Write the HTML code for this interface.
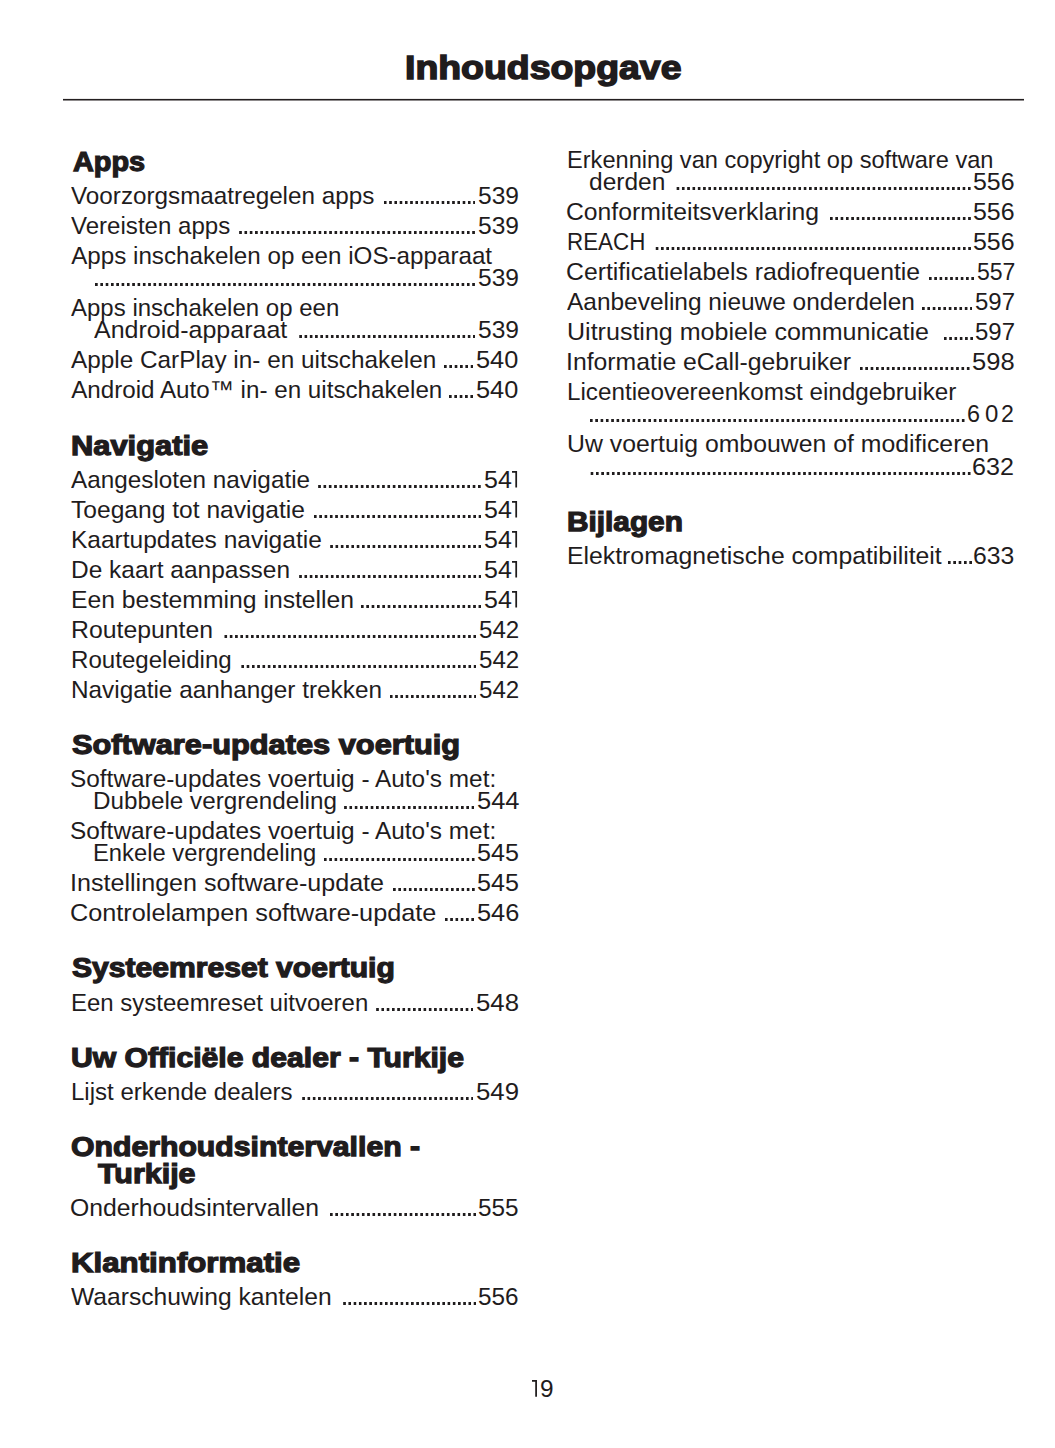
<!DOCTYPE html>
<html><head><meta charset="utf-8"><title>Inhoudsopgave</title>
<style>
html,body{margin:0;padding:0;background:#fff;}
body{width:1055px;height:1448px;position:relative;overflow:hidden;font-family:"Liberation Sans",sans-serif;color:#1f1c1d;}
.ti,.h,.l{position:absolute;line-height:0;white-space:nowrap;transform-origin:0 0;}
.ti{font-weight:bold;font-size:33.5px;-webkit-text-stroke:1.5px #1f1c1d;}
.h{font-weight:bold;font-size:27.5px;-webkit-text-stroke:1.25px #1f1c1d;}
.l{font-size:24.2px;}
.d{position:absolute;height:3px;background-image:linear-gradient(to left,#1f1c1d 0 2.6px,transparent 2.6px);background-position:right top;background-repeat:repeat-x;}
.r{position:absolute;left:63px;width:961px;height:1px;}
</style></head><body>
<div class="r" style="top:98px;background:#ebeaea"></div><div class="r" style="top:99px;background:#231f20"></div><div class="r" style="top:100px;background:#8d8a8b"></div>
<div class="ti" style="top:68px;left:404.90px;transform:scaleX(1.1169);">Inhoudsopgave</div>
<div class="h" style="top:162px;left:72.66px;transform:scaleX(1.0487);">Apps</div>
<div class="l" style="top:196px;left:71.20px;transform:scaleX(1.0025);">Voorzorgsmaatregelen apps</div>
<div class="l" style="top:196px;left:477.80px;transform:scaleX(1.0149);">539</div>
<div class="d" style="top:201px;left:383.50px;width:91.80px;background-size:5.252px 100%"></div>
<div class="l" style="top:226px;left:71.20px;transform:scaleX(0.9949);">Vereisten apps</div>
<div class="l" style="top:226px;left:477.80px;transform:scaleX(1.0149);">539</div>
<div class="d" style="top:231px;left:239.40px;width:235.90px;background-size:5.303px 100%"></div>
<div class="l" style="top:256px;left:71.20px;">Apps inschakelen op een iOS-apparaat</div>
<div class="l" style="top:278px;left:477.80px;transform:scaleX(1.0149);">539</div>
<div class="d" style="top:283px;left:94.40px;width:380.90px;background-size:5.328px 100%"></div>
<div class="l" style="top:308px;left:71.20px;transform:scaleX(0.9924);">Apps inschakelen op een</div>
<div class="l" style="top:330px;left:94.40px;transform:scaleX(1.0342);">Android-apparaat</div>
<div class="l" style="top:330px;left:477.80px;transform:scaleX(1.0149);">539</div>
<div class="d" style="top:335px;left:298.60px;width:176.70px;background-size:5.277px 100%"></div>
<div class="l" style="top:360px;left:71.20px;transform:scaleX(1.0062);">Apple CarPlay in- en uitschakelen</div>
<div class="l" style="top:360px;left:475.90px;transform:scaleX(1.0475);">540</div>
<div class="d" style="top:365px;left:444.00px;width:29.40px;background-size:5.355px 100%"></div>
<div class="l" style="top:390px;left:71.20px;">Android Auto™ in- en uitschakelen</div>
<div class="l" style="top:390px;left:475.90px;transform:scaleX(1.0475);">540</div>
<div class="d" style="top:395px;left:449.30px;width:24.10px;background-size:5.366px 100%"></div>
<div class="h" style="top:446px;left:71.08px;transform:scaleX(1.1217);">Navigatie</div>
<div class="l" style="top:480px;left:71.20px;transform:scaleX(1.0043);">Aangesloten navigatie</div>
<div class="l" style="top:480px;left:483.50px;transform:scaleX(1.0321);">54</div>
<svg style="position:absolute;left:509.90px;top:469.40px" width="8.20" height="20.60"><path d="M2.00 2.88H6.20V18.60" fill="none" stroke="#1f1c1d" stroke-width="1.75" stroke-linejoin="miter"/></svg>
<div class="d" style="top:485px;left:318.30px;width:162.70px;background-size:5.336px 100%"></div>
<div class="l" style="top:510px;left:71.20px;transform:scaleX(1.0170);">Toegang tot navigatie</div>
<div class="l" style="top:510px;left:483.50px;transform:scaleX(1.0321);">54</div>
<svg style="position:absolute;left:509.90px;top:499.40px" width="8.20" height="20.60"><path d="M2.00 2.88H6.20V18.60" fill="none" stroke="#1f1c1d" stroke-width="1.75" stroke-linejoin="miter"/></svg>
<div class="d" style="top:515px;left:313.70px;width:167.30px;background-size:5.313px 100%"></div>
<div class="l" style="top:540px;left:70.99px;transform:scaleX(1.0135);">Kaartupdates navigatie</div>
<div class="l" style="top:540px;left:483.50px;transform:scaleX(1.0321);">54</div>
<svg style="position:absolute;left:509.90px;top:529.40px" width="8.20" height="20.60"><path d="M2.00 2.88H6.20V18.60" fill="none" stroke="#1f1c1d" stroke-width="1.75" stroke-linejoin="miter"/></svg>
<div class="d" style="top:545px;left:329.80px;width:151.20px;background-size:5.308px 100%"></div>
<div class="l" style="top:570px;left:70.99px;transform:scaleX(1.0120);">De kaart aanpassen</div>
<div class="l" style="top:570px;left:483.50px;transform:scaleX(1.0321);">54</div>
<svg style="position:absolute;left:509.90px;top:559.40px" width="8.20" height="20.60"><path d="M2.00 2.88H6.20V18.60" fill="none" stroke="#1f1c1d" stroke-width="1.75" stroke-linejoin="miter"/></svg>
<div class="d" style="top:575px;left:298.60px;width:182.40px;background-size:5.289px 100%"></div>
<div class="l" style="top:600px;left:70.98px;transform:scaleX(1.0222);">Een bestemming instellen</div>
<div class="l" style="top:600px;left:483.50px;transform:scaleX(1.0321);">54</div>
<svg style="position:absolute;left:509.90px;top:589.40px" width="8.20" height="20.60"><path d="M2.00 2.88H6.20V18.60" fill="none" stroke="#1f1c1d" stroke-width="1.75" stroke-linejoin="miter"/></svg>
<div class="d" style="top:605px;left:360.80px;width:120.20px;background-size:5.345px 100%"></div>
<div class="l" style="top:630px;left:70.97px;transform:scaleX(1.0252);">Routepunten</div>
<div class="l" style="top:630px;left:478.90px;transform:scaleX(0.9974);">542</div>
<div class="d" style="top:635px;left:224.30px;width:252.10px;background-size:5.309px 100%"></div>
<div class="l" style="top:660px;left:71.00px;transform:scaleX(0.9961);">Routegeleiding</div>
<div class="l" style="top:660px;left:478.90px;transform:scaleX(0.9974);">542</div>
<div class="d" style="top:665px;left:241.00px;width:235.40px;background-size:5.292px 100%"></div>
<div class="l" style="top:690px;left:70.99px;transform:scaleX(1.0055);">Navigatie aanhanger trekken</div>
<div class="l" style="top:690px;left:478.90px;transform:scaleX(0.9974);">542</div>
<div class="d" style="top:695px;left:389.60px;width:86.80px;background-size:5.266px 100%"></div>
<div class="h" style="top:745px;left:71.70px;transform:scaleX(1.1190);">Software-updates voertuig</div>
<div class="l" style="top:779px;left:70.19px;transform:scaleX(1.0082);">Software-updates voertuig - Auto&#39;s met:</div>
<div class="l" style="top:801px;left:93.40px;transform:scaleX(1.0023);">Dubbele vergrendeling</div>
<div class="l" style="top:801px;left:476.80px;transform:scaleX(1.0525);">544</div>
<div class="d" style="top:806px;left:344.00px;width:130.30px;background-size:5.321px 100%"></div>
<div class="l" style="top:831px;left:70.19px;transform:scaleX(1.0082);">Software-updates voertuig - Auto&#39;s met:</div>
<div class="l" style="top:853px;left:93.42px;transform:scaleX(0.9827);">Enkele vergrendeling</div>
<div class="l" style="top:853px;left:477.40px;transform:scaleX(1.0375);">545</div>
<div class="d" style="top:858px;left:324.40px;width:150.50px;background-size:5.284px 100%"></div>
<div class="l" style="top:883px;left:69.92px;transform:scaleX(1.0381);">Instellingen software-update</div>
<div class="l" style="top:883px;left:477.40px;transform:scaleX(1.0375);">545</div>
<div class="d" style="top:888px;left:393.20px;width:81.70px;background-size:5.277px 100%"></div>
<div class="l" style="top:913px;left:70.16px;transform:scaleX(1.0439);">Controlelampen software-update</div>
<div class="l" style="top:913px;left:476.50px;transform:scaleX(1.0475);">546</div>
<div class="d" style="top:918px;left:445.00px;width:29.00px;background-size:5.288px 100%"></div>
<div class="h" style="top:968px;left:71.68px;transform:scaleX(1.0943);">Systeemreset voertuig</div>
<div class="l" style="top:1003px;left:71.01px;transform:scaleX(0.9914);">Een systeemreset uitvoeren</div>
<div class="l" style="top:1003px;left:476.00px;transform:scaleX(1.0651);">548</div>
<div class="d" style="top:1008px;left:375.90px;width:97.60px;background-size:5.281px 100%"></div>
<div class="h" style="top:1058px;left:70.59px;transform:scaleX(1.0957);">Uw Officiële dealer - Turkije</div>
<div class="l" style="top:1092px;left:71.01px;transform:scaleX(0.9928);">Lijst erkende dealers</div>
<div class="l" style="top:1092px;left:476.00px;transform:scaleX(1.0651);">549</div>
<div class="d" style="top:1097px;left:301.60px;width:171.90px;background-size:5.292px 100%"></div>
<div class="h" style="top:1147px;left:70.59px;transform:scaleX(1.0984);">Onderhoudsintervallen -</div>
<div class="h" style="top:1174px;left:98.29px;transform:scaleX(1.1068);">Turkije</div>
<div class="l" style="top:1208px;left:70.18px;transform:scaleX(1.0231);">Onderhoudsintervallen</div>
<div class="l" style="top:1208px;left:478.40px;transform:scaleX(1.0049);">555</div>
<div class="d" style="top:1213px;left:329.80px;width:146.10px;background-size:5.315px 100%"></div>
<div class="h" style="top:1263px;left:70.57px;transform:scaleX(1.1362);">Klantinformatie</div>
<div class="l" style="top:1297px;left:71.20px;transform:scaleX(1.0187);">Waarschuwing kantelen</div>
<div class="l" style="top:1297px;left:478.40px;transform:scaleX(1.0049);">556</div>
<div class="d" style="top:1302px;left:342.60px;width:133.30px;background-size:5.232px 100%"></div>
<div class="l" style="top:160px;left:567.02px;transform:scaleX(0.9760);">Erkenning van copyright op software van</div>
<div class="l" style="top:182px;left:589.19px;transform:scaleX(1.0129);">derden</div>
<div class="l" style="top:182px;left:973.10px;transform:scaleX(1.0300);">556</div>
<div class="d" style="top:187px;left:676.00px;width:294.60px;background-size:5.309px 100%"></div>
<div class="l" style="top:212px;left:566.28px;transform:scaleX(1.0225);">Conformiteitsverklaring</div>
<div class="l" style="top:212px;left:973.10px;transform:scaleX(1.0300);">556</div>
<div class="d" style="top:217px;left:829.80px;width:140.80px;background-size:5.316px 100%"></div>
<div class="l" style="top:242px;left:567.08px;transform:scaleX(0.9246);">REACH</div>
<div class="l" style="top:242px;left:973.10px;transform:scaleX(1.0300);">556</div>
<div class="d" style="top:247px;left:654.70px;width:315.90px;background-size:5.311px 100%"></div>
<div class="l" style="top:272px;left:566.28px;transform:scaleX(1.0248);">Certificatielabels radiofrequentie</div>
<div class="l" style="top:272px;left:976.50px;transform:scaleX(0.9523);">557</div>
<div class="d" style="top:277px;left:929.00px;width:45.00px;background-size:5.303px 100%"></div>
<div class="l" style="top:302px;left:567.30px;transform:scaleX(1.0107);">Aanbeveling nieuwe onderdelen</div>
<div class="l" style="top:302px;left:975.00px;transform:scaleX(0.9899);">597</div>
<div class="d" style="top:307px;left:921.70px;width:50.80px;background-size:5.353px 100%"></div>
<div class="l" style="top:332px;left:566.96px;transform:scaleX(1.0354);">Uitrusting mobiele communicatie</div>
<div class="l" style="top:332px;left:975.00px;transform:scaleX(0.9899);">597</div>
<div class="d" style="top:337px;left:943.50px;width:29.00px;background-size:5.288px 100%"></div>
<div class="l" style="top:362px;left:565.95px;transform:scaleX(1.0245);">Informatie eCall-gebruiker</div>
<div class="l" style="top:362px;left:972.10px;transform:scaleX(1.0550);">598</div>
<div class="d" style="top:367px;left:860.10px;width:109.50px;background-size:5.344px 100%"></div>
<div class="l" style="top:392px;left:567.00px;transform:scaleX(1.0020);">Licentieovereenkomst eindgebruiker</div>
<div class="l" style="top:414px;left:966.63px;transform:scaleX(0.9667);">6</div>
<div class="l" style="top:414px;left:984.50px;transform:scaleX(0.9923);">0</div>
<div class="l" style="top:414px;left:1000.84px;transform:scaleX(0.9583);">2</div>
<div class="d" style="top:419px;left:590.20px;width:374.50px;background-size:5.313px 100%"></div>
<div class="l" style="top:444px;left:566.97px;transform:scaleX(1.0258);">Uw voertuig ombouwen of modificeren</div>
<div class="l" style="top:467px;left:972.16px;transform:scaleX(1.0385);">632</div>
<div class="d" style="top:472px;left:590.20px;width:380.50px;background-size:5.323px 100%"></div>
<div class="h" style="top:522px;left:567.29px;transform:scaleX(1.0835);">Bijlagen</div>
<div class="l" style="top:556px;left:566.98px;transform:scaleX(1.0248);">Elektromagnetische compatibiliteit</div>
<div class="l" style="top:556px;left:973.48px;transform:scaleX(1.0230);">633</div>
<div class="d" style="top:561px;left:948.00px;width:24.00px;background-size:5.346px 100%"></div>
<div class="l" style="top:1389px;left:540.09px;transform:scaleX(1.0083);">9</div>
<svg style="position:absolute;left:530.10px;top:1378.20px" width="8.10" height="20.80"><path d="M2.00 2.88H6.10V18.80" fill="none" stroke="#1f1c1d" stroke-width="1.75" stroke-linejoin="miter"/></svg>
</body></html>
